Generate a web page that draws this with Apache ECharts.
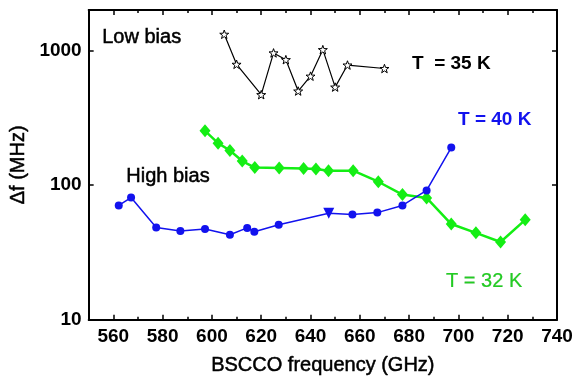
<!DOCTYPE html>
<html>
<head>
<meta charset="utf-8">
<script src="https://cdn.jsdelivr.net/npm/echarts@6/dist/echarts.min.js"></script>
<style>
  html, body { margin: 0; padding: 0; background: #fff; }
  #chart { width: 577px; height: 381px; }
</style>
</head>
<body>
<div id="chart"></div>
<script>
// Three data sets: low bias at 35 K (hollow stars), high bias at 40 K (blue dots)
// and 32 K (green diamonds). Log y axis, frame with inward ticks on all sides.
const INK = "#000000";
const BLUE = "#1212ee";
const GREEN = "#14ee14";
const FONT = "'Liberation Sans', Arial, sans-serif";

const majorX = [560, 580, 600, 620, 640, 660, 680, 700, 720, 740];
const minorX = [550, 570, 590, 610, 630, 650, 670, 690, 710, 730];
const majorY = [10, 100, 1000];

const lowFreq = [605, 610, 620, 625, 630, 635, 640, 645, 650, 655, 670];
const lowDf = [1320, 790, 470, 960, 855, 500, 645, 1015, 535, 780, 735];

const t40Freq = [562.2, 567.2, 577.4, 587.2, 597.2, 607.3, 614.3, 617.2, 627.1, 647.4, 657.0, 667.1, 677.3, 687.1, 697.1];
const t40Df = [70.7, 80.9, 48.5, 45.7, 47.2, 42.8, 48.1, 45.0, 50.8, 61.8, 60.4, 62.5, 70.7, 91.4, 190];
const t40Triangle = 647.4; // the one point drawn as a down triangle

const t32Freq = [597.2, 602.5, 607.3, 612.3, 617.4, 627.3, 637.2, 642.2, 647.3, 657.3, 667.5, 677.3, 687.1, 697.1, 707.1, 717.1, 727.1];
const t32Df = [253, 205, 181, 151, 135, 134, 133, 132, 128, 128, 106, 85.1, 80.4, 51.4, 44.2, 37.8, 55.2];

const STAR = "path://M0,-10L2.35,-3.24L9.51,-3.09L3.8,1.24L5.88,8.09L0,4L-5.88,8.09L-3.8,1.24L-9.51,-3.09L-2.35,-3.24Z";

const zip = (xs, ys) => xs.map((x, i) => [x, ys[i]]);

const chart = echarts.init(document.getElementById("chart"), null, { renderer: "canvas" });

const lineStyle = { color: INK, width: 2 };
const tickFont = { color: INK, fontSize: 19, fontWeight: "bold", fontFamily: FONT };
// slight stroke to thicken the plain-weight texts like the reference
const heavy = (fill, w) => ({ stroke: fill, lineWidth: w });

function xAxisPart(position, values, len, showLine, withLabels) {
  return {
    type: "value",
    position,
    min: 550,
    max: 740,
    axisLine: { show: showLine, onZero: false, lineStyle },
    axisTick: { show: true, inside: true, length: len, customValues: values, lineStyle: { color: INK, width: 1.5 } },
    axisLabel: withLabels
      ? { show: true, customValues: values, margin: 8, formatter: (v) => String(v), ...tickFont }
      : { show: false },
    splitLine: { show: false },
  };
}

chart.setOption({
  animation: false,
  backgroundColor: "#ffffff",
  textStyle: { fontFamily: FONT },
  grid: { left: 77, right: 20, top: 10, bottom: 56, containLabel: false },
  xAxis: [
    {
      ...xAxisPart("bottom", majorX, 5, true, true),
      name: "BSCCO frequency (GHz)",
      nameLocation: "middle",
      nameGap: 36,
      nameTextStyle: { color: INK, fontSize: 20, fontFamily: FONT, textBorderColor: INK, textBorderWidth: 0.5 },
    },
    xAxisPart("bottom", minorX, 3, false, false),
    xAxisPart("top", majorX, 5, true, false),
    xAxisPart("top", minorX, 3, false, false),
  ],
  yAxis: [
    {
      type: "log",
      logBase: 10,
      position: "left",
      min: 10,
      max: 2000,
      axisLine: { show: true, onZero: false, lineStyle },
      axisTick: { show: true, inside: true, length: 5, customValues: majorY, lineStyle: { color: INK, width: 1.5 } },
      axisLabel: { show: true, customValues: majorY, margin: 7, formatter: (v) => String(v), ...tickFont },
      splitLine: { show: false },
      minorTick: { show: false },
      name: "Δf (MHz)",
      nameLocation: "middle",
      nameRotate: 90,
      nameGap: 42,
      nameTextStyle: { color: INK, fontSize: 20, fontFamily: FONT, textBorderColor: INK, textBorderWidth: 0.5 },
    },
    {
      type: "log",
      logBase: 10,
      position: "right",
      min: 10,
      max: 2000,
      axisLine: { show: true, onZero: false, lineStyle },
      axisTick: { show: true, inside: true, length: 5, customValues: majorY, lineStyle: { color: INK, width: 1.5 } },
      axisLabel: { show: false },
      splitLine: { show: false },
    },
  ],
  series: [
    {
      name: "T = 32 K",
      type: "line",
      symbol: "diamond",
      symbolSize: [11, 13],
      lineStyle: { color: GREEN, width: 2.5 },
      itemStyle: { color: GREEN },
      data: zip(t32Freq, t32Df),
    },
    {
      name: "T = 40 K",
      type: "line",
      symbol: "circle",
      symbolSize: 8,
      lineStyle: { color: BLUE, width: 1.5 },
      itemStyle: { color: BLUE },
      data: zip(t40Freq, t40Df).map((p) =>
        p[0] === t40Triangle
          ? { value: p, symbol: "triangle", symbolRotate: 180, symbolSize: 11 }
          : p
      ),
    },
    {
      name: "T = 35 K",
      type: "line",
      symbol: STAR,
      symbolSize: 9,
      symbolKeepAspect: true,
      lineStyle: { color: INK, width: 1.2 },
      itemStyle: { color: "#ffffff", borderColor: INK, borderWidth: 1 },
      data: zip(lowFreq, lowDf),
    },
  ],
  graphic: [
    { type: "text", left: 102, top: 27, style: { text: "Low bias", fill: INK, font: "20px " + FONT, ...heavy(INK, 0.5) } },
    { type: "text", left: 412, top: 54, style: { text: "T  = 35 K", fill: INK, font: "bold 19px " + FONT } },
    { type: "text", left: 458, top: 110, style: { text: "T = 40 K", fill: BLUE, font: "bold 19px " + FONT } },
    { type: "text", left: 126, top: 166, style: { text: "High bias", fill: INK, font: "20px " + FONT, ...heavy(INK, 0.5) } },
    { type: "text", left: 446, top: 271, style: { text: "T = 32 K", fill: "#22cc22", font: "20px " + FONT, ...heavy("#1a9a1a", 0.2) } },
  ],
});
</script>
</body>
</html>
